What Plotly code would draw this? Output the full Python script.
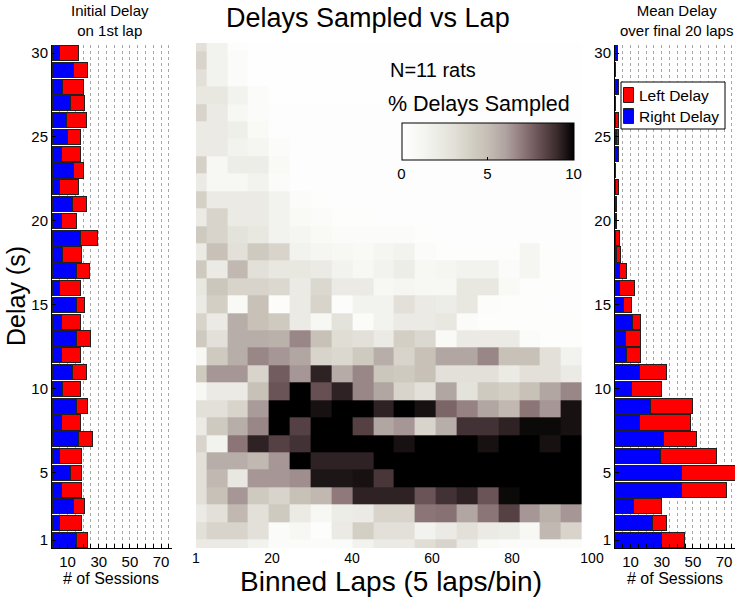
import plotly.graph_objects as go

# ---------------- data ----------------
delays = list(range(1, 31))
lap_bin_centers = [1.0, 6.2, 11.4, 16.6, 21.8, 27.1, 32.3, 37.5, 42.7, 47.9,
                   53.1, 58.3, 63.5, 68.7, 73.9, 79.2, 84.4, 89.6, 94.8, 100.0]
lap_ticks = [1, 20, 40, 60, 80, 100]
delay_ticks = [1, 5, 10, 15, 20, 25, 30]
session_ticks = [10, 30, 50, 70]

# % delays sampled, rows = delay 1..30, columns = lap bins
pct_sampled = [
    [2.2, 2.2, 2.2, 1.5, 0.5, 0.5, 0.5, 0.5, 1.5, 2.2, 2.2, 3.2, 3.7, 2.2, 0.8, 0.5, 0.5, 0.5, 0.5, 0],
    [3.0, 3.7, 3.7, 3.0, 0.5, 1.0, 0.3, 2.2, 4.0, 3.0, 3.0, 1.5, 2.2, 3.0, 2.2, 2.0, 1.0, 5.2, 3.7, 0],
    [2.2, 3.0, 5.2, 3.0, 4.3, 2.2, 1.0, 2.0, 2.2, 3.7, 3.7, 7.1, 7.2, 5.9, 7.1, 8.4, 6.3, 5.5, 6.3, 0],
    [3.0, 4.8, 6.3, 4.3, 3.7, 4.8, 5.2, 7.0, 9.2, 9.2, 9.2, 7.9, 8.8, 9.2, 7.9, 9.8, 11, 10, 11, 0],
    [3.0, 5.2, 2.5, 6.3, 6.3, 6.5, 9.5, 9.5, 9.6, 8.7, 11, 12, 12, 12, 12, 12, 12, 12, 12, 0],
    [3.0, 5.6, 5.6, 5.2, 6.3, 10.5, 9.2, 9.2, 9.2, 11, 12, 12, 12, 12, 12, 12, 12, 12, 12, 0],
    [3.7, 1.5, 7.1, 9.2, 8.4, 8.8, 11, 12, 11, 11, 9.6, 11, 12, 12, 9.6, 11, 12, 9.6, 11, 0],
    [2.2, 4.3, 5.6, 6.7, 10.5, 8.4, 10.5, 10.5, 8.4, 5.9, 6.3, 3.7, 5.6, 8.8, 8.8, 9.2, 9.8, 9.8, 9.6, 0],
    [3.0, 3.0, 3.7, 6.2, 10.2, 10.8, 9.6, 10.8, 10.5, 9.2, 10.5, 9.6, 7.5, 6.8, 5.9, 5.2, 7.1, 6.3, 9.6, 0],
    [1.0, 2.2, 2.2, 4.8, 7.9, 10.5, 8.0, 9.2, 6.7, 5.9, 3.7, 3.0, 5.9, 2.8, 4.3, 4.0, 4.8, 5.9, 6.7, 0],
    [4.3, 6.3, 6.3, 3.7, 7.7, 6.3, 9.2, 5.7, 6.7, 4.5, 4.3, 4.8, 3.0, 3.0, 3.0, 2.2, 3.0, 3.0, 2.2, 0],
    [1.0, 4.3, 5.6, 6.7, 6.3, 5.9, 3.7, 3.5, 4.3, 5.6, 3.7, 4.8, 5.9, 5.9, 6.7, 4.8, 4.8, 3.0, 1.5, 0],
    [4.3, 3.0, 5.6, 5.6, 5.5, 6.7, 4.8, 3.2, 3.0, 2.2, 4.0, 3.5, 0.8, 2.2, 2.2, 2.2, 0.5, 0.3, 0.3, 0],
    [3.7, 2.2, 5.6, 4.8, 4.3, 2.2, 1.0, 2.8, 0.5, 1.5, 2.2, 2.2, 2.5, 0.5, 0.3, 0.3, 0.3, 0.3, 0.3, 0],
    [2.2, 4.0, 0.8, 4.8, 0.4, 2.2, 3.7, 0.4, 1.5, 1.5, 3.0, 2.2, 2.0, 2.5, 0.4, 0.3, 0.3, 0.2, 0.2, 0],
    [2.5, 4.5, 3.7, 3.7, 3.5, 2.2, 3.5, 2.2, 2.2, 1.0, 1.2, 1.0, 1.0, 2.5, 2.5, 0.8, 0.3, 0.3, 0.2, 0],
    [4.3, 2.2, 5.2, 3.0, 2.5, 2.5, 2.2, 1.5, 1.0, 1.5, 2.0, 1.0, 1.2, 1.5, 1.5, 0.5, 1.2, 0.3, 0.2, 0],
    [2.2, 4.8, 3.0, 4.3, 3.7, 1.5, 1.2, 1.0, 0.8, 1.2, 1.5, 0.5, 0.3, 0.3, 0.3, 0.3, 1.2, 0.3, 0.2, 0],
    [4.3, 3.7, 2.8, 2.5, 1.5, 1.2, 0.8, 0.5, 0.5, 0.5, 0.5, 0.3, 0.2, 0.2, 0.2, 0.2, 0.2, 0.2, 0.2, 0],
    [2.2, 3.7, 2.2, 2.2, 1.5, 0.8, 0.5, 0.3, 0.3, 0.2, 0.2, 0.2, 0.2, 0.2, 0.2, 0.2, 0.2, 0.2, 0.2, 0],
    [3.9, 2.2, 2.2, 2.2, 1.5, 0.5, 0.3, 0.2, 0.2, 0.2, 0.2, 0.2, 0.2, 0.2, 0.2, 0.2, 0.2, 0.2, 0.2, 0],
    [2.2, 1.0, 1.0, 1.5, 0.5, 0.2, 0.2, 0.2, 0.2, 0.2, 0.2, 0.2, 0.2, 0.2, 0.2, 0.2, 0.2, 0.2, 0.2, 0],
    [3.9, 1.0, 2.0, 2.0, 0.8, 0.2, 0.2, 0.2, 0.2, 0.2, 0.2, 0.2, 0.2, 0.2, 0.2, 0.2, 0.2, 0.2, 0.2, 0],
    [2.2, 2.2, 1.5, 1.2, 0.5, 0.2, 0.2, 0.2, 0.2, 0.2, 0.2, 0.2, 0.2, 0.2, 0.2, 0.2, 0.2, 0.2, 0.2, 0],
    [2.2, 2.2, 1.8, 0.8, 0.2, 0.2, 0.2, 0.2, 0.2, 0.2, 0.2, 0.2, 0.2, 0.2, 0.2, 0.2, 0.2, 0.2, 0.2, 0],
    [3.7, 2.2, 1.0, 0.5, 0.2, 0.2, 0.2, 0.2, 0.2, 0.2, 0.2, 0.2, 0.2, 0.2, 0.2, 0.2, 0.2, 0.2, 0.2, 0],
    [2.5, 2.5, 1.5, 0.5, 0.1, 0.1, 0.1, 0.1, 0.1, 0.1, 0.1, 0.1, 0.1, 0.1, 0.1, 0.1, 0.1, 0.1, 0.1, 0],
    [3.0, 1.5, 0.5, 0.1, 0.1, 0.1, 0.1, 0.1, 0.1, 0.1, 0.1, 0.1, 0.1, 0.1, 0.1, 0.1, 0.1, 0.1, 0.1, 0],
    [3.7, 1.5, 0.5, 0.1, 0.1, 0.1, 0.1, 0.1, 0.1, 0.1, 0.1, 0.1, 0.1, 0.1, 0.1, 0.1, 0.1, 0.1, 0.1, 0],
    [3.0, 1.5, 0.3, 0.1, 0.1, 0.1, 0.1, 0.1, 0.1, 0.1, 0.1, 0.1, 0.1, 0.1, 0.1, 0.1, 0.1, 0.1, 0.1, 0],
]

# Initial delay on 1st lap (# of sessions), delay 1..30
initial_right = [16, 5, 14, 6, 12, 5, 17, 6, 16, 7, 13, 6, 16, 6, 16,
                 5, 16, 7, 18, 6, 13, 5, 14, 6, 10, 9, 12, 7, 14, 5]
initial_left = [7, 14, 7, 13, 7, 14, 9, 12, 7, 11, 9, 12, 9, 12, 5,
                13, 8, 12, 11, 10, 9, 12, 6, 12, 8, 13, 9, 13, 9, 12]

# Mean delay over final 20 laps (# of sessions), delay 1..30
final_right = [30, 24, 12, 42.5, 42.5, 29, 31, 15.7, 23, 10.8, 15.7, 7.3, 6.5, 11.2, 5.4,
               3.2, 3.2, 1, 0.5, 0.3, 0, 0.5, 0, 2, 0.7, 0, 0, 2, 0, 1.5]
final_left = [14.6, 9, 17.7, 29.3, 34.5, 36.3, 21.5, 33, 26.8, 19.2, 17.5, 9.1, 9.9, 5.2, 4.9,
              9.5, 4.1, 2.5, 2.7, 0.9, 1, 1.5, 0, 0, 1.3, 2, 0, 0, 0, 0]

legend_labels = ["Left Delay", "Right Delay"]

# ---------------- figure ----------------
W, H = 738, 600
FONT = "Liberation Sans, Arial, Helvetica, sans-serif"
BLUE = "#0000ff"
RED = "#ff0000"


def px_x(p):
    return p / W


def px_y(p):
    return 1 - p / H


colorscale = [
    [0.0, "#ffffff"], [0.1, "#f7f7f4"], [0.2, "#edede7"], [0.3, "#e2e0d8"],
    [0.4, "#d3cfc5"], [0.5, "#c5beb5"], [0.6, "#b0a3a1"], [0.7, "#8f797b"],
    [0.8, "#675053"], [0.9, "#3a2b2d"], [1.0, "#000000"],
]

fig = go.Figure()

# left panel bars
fig.add_trace(go.Bar(orientation="h", y=delays, x=initial_right, xaxis="x", yaxis="y",
                     marker=dict(color=BLUE, line=dict(color="#202020", width=1)),
                     showlegend=False, hoverinfo="skip"))
fig.add_trace(go.Bar(orientation="h", y=delays, x=initial_left, xaxis="x", yaxis="y",
                     marker=dict(color=RED, line=dict(color="#202020", width=1)),
                     showlegend=False, hoverinfo="skip"))

# heatmap
fig.add_trace(go.Heatmap(
    x=lap_bin_centers, y=delays, z=pct_sampled, xaxis="x2", yaxis="y2",
    zmin=0, zmax=10, colorscale=colorscale,
    colorbar=dict(orientation="h", x=px_x(487.5), xanchor="center",
                  y=px_y(123), yanchor="top", len=171.6 / W, lenmode="fraction",
                  thickness=37, thicknessmode="pixels", xpad=0, ypad=0,
                  outlinecolor="black", outlinewidth=1,
                  tickvals=[0, 5, 10], ticktext=["0", "5", "10"],
                  ticks="inside", ticklen=3, tickcolor="black",
                  tickfont=dict(size=15, color="black", family=FONT)),
))

# right panel bars
fig.add_trace(go.Bar(orientation="h", y=delays, x=final_right, xaxis="x3", yaxis="y3",
                     name=legend_labels[1], showlegend=False,
                     marker=dict(color=BLUE, line=dict(color="#202020", width=1)),
                     hoverinfo="skip"))
fig.add_trace(go.Bar(orientation="h", y=delays, x=final_left, xaxis="x3", yaxis="y3",
                     name=legend_labels[0], showlegend=False,
                     marker=dict(color=RED, line=dict(color="#202020", width=1)),
                     hoverinfo="skip"))

bar_x_common = dict(
    range=[0, 77], tickvals=list(range(0, 80, 5)),
    ticktext=[str(v) if v in session_ticks else "" for v in range(0, 80, 5)],
    showgrid=True, gridcolor="#a8a8a8", griddash="dot", gridwidth=1,
    showline=True, linecolor="black", linewidth=1, zeroline=False,
    ticks="inside", ticklen=4, tickcolor="black",
    tickfont=dict(size=15, color="black", family=FONT), fixedrange=True,
)
bar_y_common = dict(
    range=[0.5, 30.5], tickvals=delay_ticks, showgrid=False, zeroline=False,
    showline=True, linecolor="black", linewidth=1,
    ticks="inside", ticklen=4, tickcolor="black",
    tickfont=dict(size=15, color="black", family=FONT), fixedrange=True,
)
ydom = [px_y(548.4), px_y(44.6)]

fig.update_layout(
    width=W, height=H,
    margin=dict(l=0, r=0, t=0, b=0, autoexpand=False),
    paper_bgcolor="white", plot_bgcolor="rgba(0,0,0,0)",
    font=dict(family=FONT, color="black"),
    barmode="stack", bargap=0.1, showlegend=False,
    xaxis=dict(domain=[px_x(52), px_x(172)], anchor="y", **bar_x_common),
    yaxis=dict(domain=ydom, anchor="x", **bar_y_common),
    xaxis2=dict(domain=[px_x(196), px_x(592)], anchor="y2", range=[1, 100],
                tickvals=lap_ticks, showgrid=False, zeroline=False, showline=False,
                ticks="", tickfont=dict(size=14, color="black", family=FONT),
                fixedrange=True),
    yaxis2=dict(domain=[px_y(548), px_y(43)], anchor="x2", range=[1, 30],
                visible=False, fixedrange=True),
    xaxis3=dict(domain=[px_x(615), px_x(735)], anchor="y3", **bar_x_common),
    yaxis3=dict(domain=ydom, anchor="x3", **bar_y_common),
)

# legend box drawn in the right panel (like the original)
fig.add_shape(type="rect", xref="paper", yref="paper",
              x0=px_x(621), x1=px_x(725), y0=px_y(129), y1=px_y(82),
              line=dict(color="black", width=1), fillcolor="white", layer="above")
for lbl, col, yc in [(legend_labels[0], RED, 95), (legend_labels[1], BLUE, 116)]:
    fig.add_shape(type="rect", xref="paper", yref="paper",
                  x0=px_x(623.5), x1=px_x(633.5), y0=px_y(yc + 7.5), y1=px_y(yc - 7.5),
                  line=dict(color="#202020", width=1), fillcolor=col, layer="above")
    fig.add_annotation(text=lbl, x=px_x(637), y=px_y(yc), xref="paper", yref="paper",
                       xanchor="left", yanchor="middle", showarrow=False,
                       font=dict(size=15.5, color="black", family=FONT))

annotations = [
    dict(text="Delays Sampled vs Lap", x=px_x(368), y=px_y(18), font=dict(size=27)),
    dict(text="Initial Delay<br>on 1st lap", x=px_x(110), y=1.0, yanchor="top",
         font=dict(size=15)),
    dict(text="Mean Delay<br>over final 20 laps", x=px_x(676), y=1.0, yanchor="top",
         font=dict(size=15)),
    dict(text="# of Sessions", x=px_x(111), y=px_y(578), font=dict(size=16)),
    dict(text="# of Sessions", x=px_x(675), y=px_y(578), font=dict(size=16)),
    dict(text="Binned Laps (5 laps/bin)", x=px_x(391), y=px_y(599), yanchor="bottom",
         font=dict(size=28)),
    dict(text="Delay (s)", x=px_x(16), y=px_y(296), font=dict(size=25), textangle=-90),
    dict(text="N=11 rats", x=px_x(388), y=px_y(70), xanchor="left", font=dict(size=20)),
    dict(text="% Delays Sampled", x=px_x(386), y=px_y(104), xanchor="left", font=dict(size=21.5)),
]
for a in annotations:
    a.setdefault("xanchor", "center")
    a.setdefault("yanchor", "middle")
    a["xref"] = "paper"
    a["yref"] = "paper"
    a["showarrow"] = False
    a["font"]["family"] = FONT
    a["font"]["color"] = "black"
    fig.add_annotation(**a)

fig.write_html("out.html", config={"displayModeBar": False},
               post_script="document.body.style.margin='0px';document.body.style.padding='0px';")
